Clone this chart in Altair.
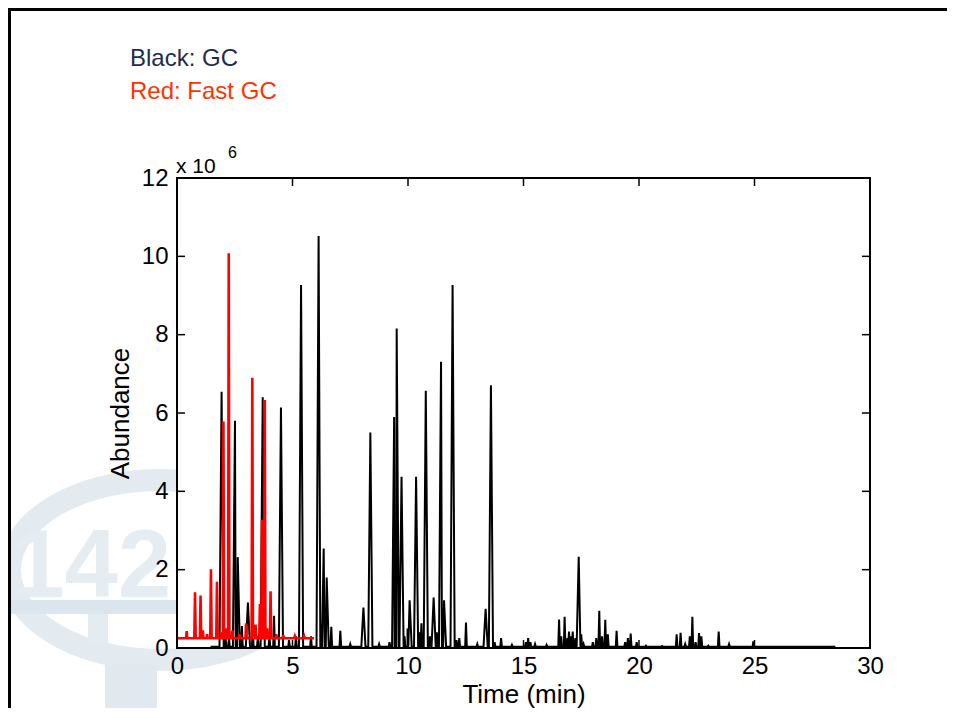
import altair as alt
import pandas as pd

# ---- data (abundance in units of 1e6) ----
gc_peak_t = [1.93, 2.10, 2.25, 2.51, 2.63, 2.81, 3.07, 3.28, 3.50, 3.71, 4.00, 4.20, 4.50,
             4.85, 5.15, 5.37, 5.80, 6.13, 6.24, 6.35, 6.48, 6.68, 7.07, 7.50, 8.07, 8.37,
             8.75, 9.20, 9.40, 9.51, 9.72, 9.85, 9.98, 10.07, 10.35, 10.50, 10.58, 10.77,
             10.95, 11.11, 11.25, 11.43, 11.56, 11.93, 12.10, 12.22, 12.51, 13.00, 13.36,
             13.59, 13.75, 14.03, 14.50, 15.10, 15.20, 15.30, 15.50, 16.00, 16.54, 16.63,
             16.78, 16.90, 16.97, 17.05, 17.13, 17.25, 17.39, 17.50, 17.60, 18.00, 18.15,
             18.28, 18.40, 18.54, 18.65, 19.03, 19.40, 19.52, 19.64, 19.90, 20.30, 21.00,
             21.63, 21.80, 22.00, 22.20, 22.31, 22.45, 22.60, 22.70, 23.00, 23.45, 23.90,
             24.95]
gc_peak_h = [6.54, 0.30, 0.25, 5.80, 2.32, 0.56, 1.16, 0.50, 0.30, 6.40, 0.30, 0.82, 6.14,
             0.20, 0.30, 9.27, 0.30, 10.52, 0.60, 2.54, 1.80, 0.54, 0.44, 0.10, 1.03, 5.50,
             0.10, 0.15, 5.90, 8.16, 4.37, 0.30, 0.50, 1.22, 4.37, 0.40, 0.63, 6.57,
             0.30, 1.29, 0.40, 7.31, 1.22, 9.27, 0.20, 0.25, 0.65, 0.10, 1.00,
             6.71, 0.15, 0.25, 0.08, 0.15, 0.25, 0.15, 0.10, 0.08, 0.73, 0.30,
             0.80, 0.25, 0.42, 0.30, 0.42, 0.25, 2.33, 0.35, 0.10, 0.15, 0.25,
             0.95, 0.30, 0.72, 0.35, 0.44, 0.15, 0.25, 0.37, 0.15, 0.06, 0.05,
             0.35, 0.39, 0.10, 0.30, 0.80, 0.15, 0.38, 0.30, 0.06, 0.42, 0.10,
             0.17]
gc_start, gc_end, gc_base = 1.45, 28.5, 0.03

fast_peak_t = [0.42, 0.78, 1.02, 1.12, 1.30, 1.47, 1.73, 1.90, 2.01, 2.15, 2.24, 2.40, 2.70,
               2.99, 3.26, 3.40, 3.59, 3.68, 3.80, 3.90, 4.05, 4.30, 4.60, 5.10, 5.50]
fast_peak_h = [0.43, 1.42, 1.34, 0.45, 0.35, 2.01, 1.69, 0.40, 5.78, 0.50, 10.08, 0.45, 0.35,
               0.63, 6.90, 0.60, 1.12, 3.27, 6.33, 0.50, 1.45, 0.35, 0.33, 0.30, 0.30]
fast_start, fast_end, fast_base = 0.0, 5.93, 0.25

x_ticks = [0, 5, 10, 15, 20, 25, 30]
y_ticks = [0, 2, 4, 6, 8, 10, 12]
legend_gc = "Black: GC"
legend_fast = "Red: Fast GC"


def trace(ts, hs, start, end, base, w_big, w_small):
    rows = [(start, base), (end, base)]
    for t, h in zip(ts, hs):
        w = w_big if h >= 1 else w_small
        rows += [(t - w, base), (t, h), (t + w, base)]
    rows.sort()
    return pd.DataFrame(rows, columns=["t", "v"])


gc_df = trace(gc_peak_t, gc_peak_h, gc_start, gc_end, gc_base, 0.09, 0.035)
fast_df = trace(fast_peak_t, fast_peak_h, fast_start, fast_end, fast_base, 0.03, 0.025)
xt_df = pd.DataFrame({"t": x_ticks})
yt_df = pd.DataFrame({"v": y_ticks})
one = pd.DataFrame({"a": [0]})

W, H = 693, 470
FONT = "Liberation Sans"

xs = alt.Scale(domain=[0, 30], nice=False, zero=False)
ys = alt.Scale(domain=[0, 12], nice=False, zero=False)
xax = alt.Axis(values=x_ticks, format="d", title="Time (min)", grid=False, ticks=False,
               domain=False, labelFontSize=24, labelFont=FONT, labelColor="black",
               labelPadding=6, labelFlush=False, labelOverlap=False,
               titleFontSize=26, titleFont=FONT, titleFontWeight="normal",
               titleColor="black", titleX=W / 2, titleY=46, titleBaseline="middle",
               zindex=1)
yax = alt.Axis(values=y_ticks, format="d", title="Abundance", grid=False, ticks=False,
               domain=False, labelFontSize=24, labelFont=FONT, labelColor="black",
               labelPadding=9, labelFlush=False, labelOverlap=False,
               titleFontSize=26, titleFont=FONT, titleFontWeight="normal",
               titleColor="black", titleX=-57, titleY=H / 2, titleAngle=270,
               titleBaseline="middle", titleAlign="center", zindex=1)

X = alt.X("t:Q", scale=xs, axis=xax)
Y = alt.Y("v:Q", scale=ys, axis=yax)

# ---- watermark (decoration) ----
ring = alt.Chart(one).mark_point(
    shape="M-1,0A1,0.6,0,1,1,1,0A1,0.6,0,1,1,-1,0Z", filled=False,
    strokeWidth=22, color="#e3eaf0", opacity=1, size=90000
).encode(x=alt.value(-17), y=alt.value(392))
digits = alt.Chart(one).mark_text(
    text="142", fontSize=96, fontWeight="bold", font=FONT, color="#e6edf2",
    align="left", baseline="alphabetic"
).encode(x=alt.value(-166), y=alt.value(419))
bar = alt.Chart(one).mark_rect(color="#dbe5ed").encode(
    x=alt.value(-170), x2=alt.value(0), y=alt.value(422), y2=alt.value(436))
stem1 = alt.Chart(one).mark_rect(color="#e4ebf1").encode(
    x=alt.value(-89), x2=alt.value(-69), y=alt.value(436), y2=alt.value(467))
stem2 = alt.Chart(one).mark_rect(color="#e1e9ef").encode(
    x=alt.value(-72), x2=alt.value(-20), y=alt.value(487), y2=alt.value(560))

plot_bg = alt.Chart(one).mark_rect(color="white").encode(
    x=alt.value(0), x2=alt.value(W), y=alt.value(0), y2=alt.value(H))

# ---- traces ----
gc_line = alt.Chart(gc_df).mark_line(color="black", strokeWidth=2,
                                     strokeJoin="miter").encode(x=X, y=Y)
fast_line = alt.Chart(fast_df).mark_line(color="#ff0000", strokeWidth=2.6).encode(x=X, y=Y)

frame = alt.Chart(one).mark_rect(filled=False, stroke="black", strokeWidth=2).encode(
    x=alt.value(0), x2=alt.value(W), y=alt.value(0), y2=alt.value(H))

tick_style = dict(color="black", strokeWidth=1.5)
XT = alt.X("t:Q", scale=xs, axis=xax)
YT = alt.Y("v:Q", scale=ys, axis=yax)
ticks_bottom = alt.Chart(xt_df).mark_rule(**tick_style).encode(
    x=XT, y=alt.value(H), y2=alt.value(H - 8))
ticks_top = alt.Chart(xt_df).mark_rule(**tick_style).encode(
    x=XT, y=alt.value(0), y2=alt.value(8))
ticks_left = alt.Chart(yt_df).mark_rule(**tick_style).encode(
    y=YT, x=alt.value(0), x2=alt.value(8))
ticks_right = alt.Chart(yt_df).mark_rule(**tick_style).encode(
    y=YT, x=alt.value(W - 8), x2=alt.value(W))

# ---- texts ----
leg1 = alt.Chart(one).mark_text(text=legend_gc, fontSize=24, font=FONT, color="#1f2d4d",
                                align="left", baseline="middle").encode(
    x=alt.value(-47), y=alt.value(-119))
leg2 = alt.Chart(one).mark_text(text=legend_fast, fontSize=24, font=FONT, color="#ff3300",
                                align="left", baseline="middle").encode(
    x=alt.value(-47), y=alt.value(-86))
mult = alt.Chart(one).mark_text(text="x 10", fontSize=21, font=FONT, color="black",
                                align="left", baseline="alphabetic").encode(
    x=alt.value(-1), y=alt.value(-5))
expo = alt.Chart(one).mark_text(text="6", fontSize=16, font=FONT, color="black",
                                align="left", baseline="alphabetic").encode(
    x=alt.value(51), y=alt.value(-20))

# ---- outer page frame ----
outer_left = alt.Chart(one).mark_rule(color="black", strokeWidth=3).encode(
    x=alt.value(-167.5), y=alt.value(-169), y2=alt.value(600))
outer_top = alt.Chart(one).mark_rule(color="black", strokeWidth=3).encode(
    y=alt.value(-168.5), x=alt.value(-169), x2=alt.value(775))

chart = alt.layer(
    ring, digits, bar, stem1, stem2, plot_bg,
    gc_line, fast_line, frame,
    ticks_bottom, ticks_top, ticks_left, ticks_right,
    leg1, leg2, mult, expo, outer_left, outer_top
).properties(
    width=W, height=H,
    autosize=alt.AutoSizeParams(type="none"),
    padding={"left": 169, "top": 170, "right": 77, "bottom": 60},
    background="white"
).configure_view(stroke="transparent")

chart.save("out.html", embed_options={"renderer": "svg", "actions": False})
